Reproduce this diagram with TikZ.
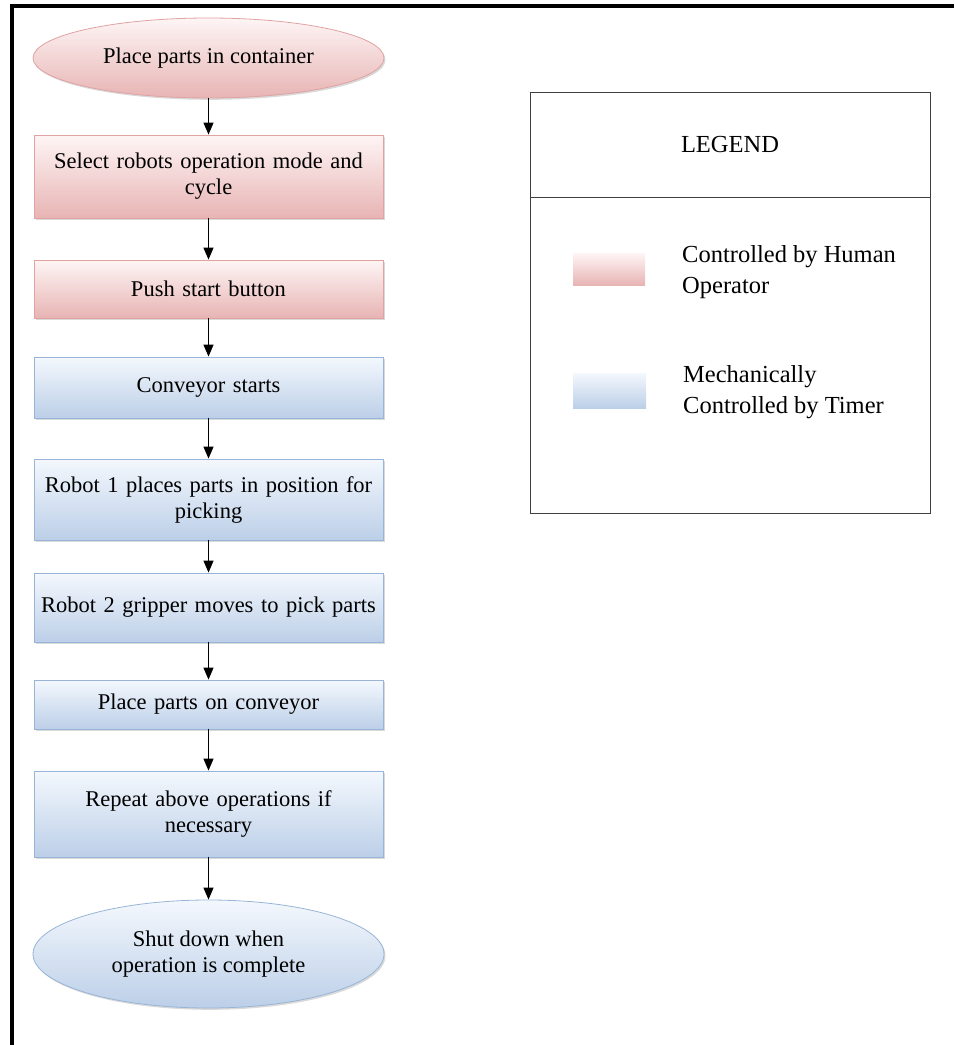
\documentclass[tikz,border=0pt]{standalone}
\usepackage{fontspec}
\setmainfont{Liberation Serif}
\usetikzlibrary{shapes.geometric,shadows,arrows.meta}

\definecolor{hmTop}{RGB}{254,245,245}
\definecolor{hmBot}{RGB}{232,180,180}
\definecolor{hmLine}{RGB}{224,162,162}
\definecolor{tmTop}{RGB}{244,248,253}
\definecolor{tmBot}{RGB}{188,207,232}
\definecolor{tmLine}{RGB}{152,181,215}

\begin{document}
\begin{tikzpicture}[x=1pt,y=-1pt,line cap=round]
	\tikzstyle{box}=[rectangle,minimum width=349pt,text width=343pt,inner xsep=3pt,align=center,line width=0.8pt,font=\fontsize{22.5}{26}\selectfont,drop shadow={shadow xshift=1.5pt,shadow yshift=-1.8pt,opacity=.3}];
	\tikzstyle{oval}=[ellipse,minimum width=351pt,inner sep=0pt,align=center,line width=0.8pt,font=\fontsize{22.5}{26}\selectfont,drop shadow={shadow xshift=1.5pt,shadow yshift=-1.8pt,opacity=.3}];
	\tikzstyle{humanbox}=[box,draw=hmLine,top color=hmTop,bottom color=hmBot];
	\tikzstyle{timerbox}=[box,draw=tmLine,top color=tmTop,bottom color=tmBot];
	\tikzstyle{humanend}=[oval,draw=hmLine,top color=hmTop,bottom color=hmBot];
	\tikzstyle{timerend}=[oval,draw=tmLine,top color=tmTop,bottom color=tmBot];
	\tikzstyle{flow}=[line width=1.1pt,-{Triangle[width=10pt,length=12pt]}];
	\tikzstyle{swatch}=[rectangle,inner sep=0pt];
	\tikzstyle{legtext}=[anchor=west,align=left,inner sep=0pt,font=\fontsize{24.5}{31}\selectfont];

	\useasboundingbox (0,0) rectangle (954,1045);
	% frame
	\draw[line width=4.3pt,line cap=butt] (12,1045) -- (12,6.3) -- (954,6.3);

	% flow chart
	\node[humanend,minimum height=80pt] (place) at (208.5,58) {Place parts in container};
	\node[humanbox,minimum height=83pt] (select) at (208.5,176.5) {Select robots operation mode and\\cycle};
	\node[humanbox,minimum height=58pt] (push) at (208.5,289) {Push start button};
	\node[timerbox,minimum height=61pt] (conv) at (208.5,387.5) {Conveyor starts};
	\node[timerbox,minimum height=81pt] (robot1) at (208.5,499.5) {Robot 1 places parts in position for\\picking};
	\node[timerbox,minimum height=69pt] (robot2) at (208.5,607.5) {Robot 2 gripper moves to pick parts};
	\node[timerbox,minimum height=49pt] (onconv) at (208.5,704.5) {Place parts on conveyor};
	\node[timerbox,minimum height=86pt] (repeat) at (208.5,814) {Repeat above operations if\\necessary};
	\node[timerend,minimum height=108pt] (stop) at (208.5,954) {Shut down when\\operation is complete};

	\draw[flow] (place) -- (select);
	\draw[flow] (select) -- (push);
	\draw[flow] (push) -- (conv);
	\draw[flow] (conv) -- (robot1);
	\draw[flow] (robot1) -- (robot2);
	\draw[flow] (robot2) -- (onconv);
	\draw[flow] (onconv) -- (repeat);
	\draw[flow] (repeat) -- (stop);

	% legend
	\node[draw=black!75,line width=0.9pt,minimum width=400pt,minimum height=105pt,font=\fontsize{24.5}{31}\selectfont] (legtitle) at (730,144.5) {LEGEND};
	\node[draw=black!75,line width=0.9pt,minimum width=400pt,minimum height=316pt] (legbody) at (730,355) {};
	\node[swatch,minimum width=72pt,minimum height=32pt,top color=hmTop,bottom color=hmBot] (redkey) at (609,269) {};
	\node[swatch,minimum width=73pt,minimum height=35pt,top color=tmTop,bottom color=tmBot] (bluekey) at (609.5,390.5) {};
	\node[legtext] (humanlbl) at (682,272.5) {Controlled by Human\\Operator};
	\node[legtext] (timerlbl) at (683,392.5) {Mechanically\\Controlled by Timer};
\end{tikzpicture}
\end{document}
